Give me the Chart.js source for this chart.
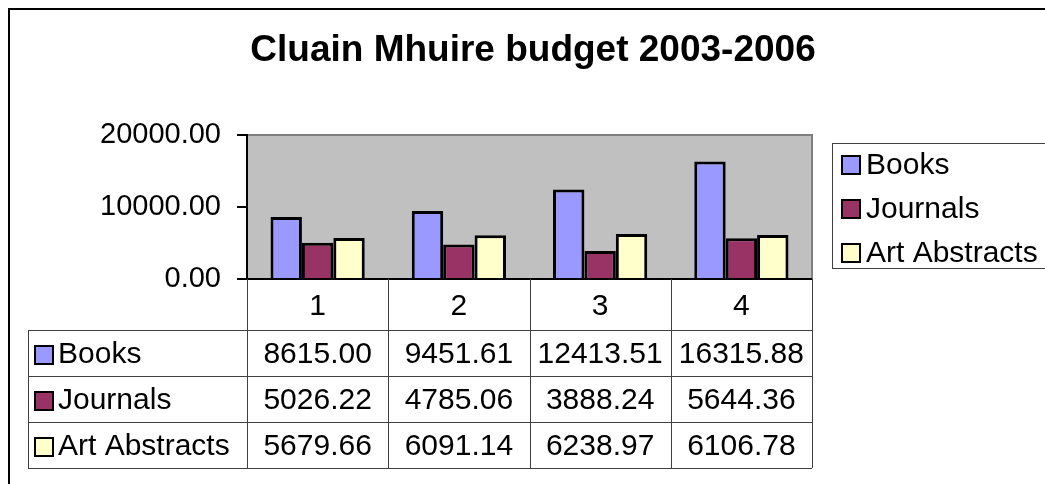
<!DOCTYPE html>
<html>
<head>
<meta charset="utf-8">
<title>Cluain Mhuire budget 2003-2006</title>
<script src="https://cdn.jsdelivr.net/npm/chart.js@4.4.1/dist/chart.umd.min.js"></script>
<style>
    body { margin: 0; background: #fff; }
    #wrap { width: 1045px; height: 484px; }
</style>
</head>
<body>
<div id="wrap"><canvas id="budgetChart" width="1045" height="484"></canvas></div>
<script>
// data
const categories = ['1', '2', '3', '4'];
const seriesNames = ['Books', 'Journals', 'Art Abstracts'];
const books = [8615.00, 9451.61, 12413.51, 16315.88];
const journals = [5026.22, 4785.06, 3888.24, 5644.36];
const artAbstracts = [5679.66, 6091.14, 6238.97, 6106.78];
const seriesColors = ['#9999FF', '#993366', '#FFFFCC'];
const yMin = 0, yMax = 20000, yStep = 10000;

const FONT = "'Liberation Sans', Arial, sans-serif";

// Excel-style frame, plot background, legend box and data table
const excelLook = {
    id: 'excelLook',
    beforeDraw(chart) {
        const ctx = chart.ctx;
        const a = chart.chartArea;
        ctx.save();
        ctx.fillStyle = '#fff';
        ctx.fillRect(0, 0, chart.width, chart.height);
        // outer chart border (only left/top are in view)
        ctx.strokeStyle = '#000';
        ctx.lineWidth = 2;
        ctx.beginPath();
        ctx.moveTo(9, chart.height + 5);
        ctx.lineTo(9, 9);
        ctx.lineTo(chart.width + 5, 9);
        ctx.stroke();
        // title
        ctx.fillStyle = '#000';
        ctx.font = 'bold 37px ' + FONT;
        ctx.textAlign = 'center';
        ctx.textBaseline = 'middle';
        ctx.fillText('Cluain Mhuire budget 2003-2006', 533, 51);
        // plot area
        ctx.fillStyle = '#C0C0C0';
        ctx.fillRect(a.left, a.top, a.right - a.left, a.bottom - a.top);
        ctx.strokeStyle = '#808080';
        ctx.lineWidth = 2;
        ctx.beginPath();
        ctx.moveTo(a.left, a.top);
        ctx.lineTo(a.right, a.top);
        ctx.lineTo(a.right, a.bottom);
        ctx.stroke();
        ctx.restore();
    },
    afterDraw(chart) {
        const ctx = chart.ctx;
        const a = chart.chartArea;
        const x = chart.scales.x;
        const colW = (a.right - a.left) / categories.length;
        const rows = [330, 376, 422, 468];
        const tableLeft = 28;
        ctx.save();
        // zero line
        ctx.strokeStyle = '#000';
        ctx.lineWidth = 2;
        ctx.beginPath();
        ctx.moveTo(a.left - 10, a.bottom);
        ctx.lineTo(a.right, a.bottom);
        ctx.stroke();

        // table grid
        ctx.strokeStyle = '#404040';
        ctx.lineWidth = 1;
        ctx.beginPath();
        for (let i = 0; i <= categories.length; i++) {
            const px = Math.round(a.left + i * colW) + 0.5;
            ctx.moveTo(px, a.bottom);
            ctx.lineTo(px, rows[rows.length - 1]);
        }
        rows.forEach(r => {
            ctx.moveTo(tableLeft, r + 0.5);
            ctx.lineTo(a.right, r + 0.5);
        });
        ctx.moveTo(tableLeft + 0.5, rows[0]);
        ctx.lineTo(tableLeft + 0.5, rows[rows.length - 1]);
        ctx.stroke();

        ctx.fillStyle = '#000';
        ctx.font = '30px ' + FONT;
        ctx.textBaseline = 'middle';
        ctx.textAlign = 'center';
        categories.forEach((c, i) => {
            ctx.fillText(c, x.getPixelForValue(i), (a.bottom + rows[0]) / 2 + 2);
        });
        chart.data.datasets.forEach((ds, s) => {
            const cy = (rows[s] + rows[s + 1]) / 2 + 2;
            // key square
            ctx.fillStyle = ds.backgroundColor;
            ctx.fillRect(35, cy - 9, 18, 18);
            ctx.strokeStyle = '#000';
            ctx.lineWidth = 2;
            ctx.strokeRect(35, cy - 9, 18, 18);
            ctx.fillStyle = '#000';
            ctx.textAlign = 'left';
            ctx.fillText(ds.label, 58, cy);
            ctx.textAlign = 'center';
            ds.data.forEach((v, i) => {
                ctx.fillText(v.toFixed(2), x.getPixelForValue(i), cy);
            });
        });

        // legend
        ctx.strokeStyle = '#404040';
        ctx.lineWidth = 1;
        ctx.strokeRect(832.5, 143.5, 260, 125);
        const legendY = [165, 209, 253];
        chart.data.datasets.forEach((ds, s) => {
            const cy = legendY[s];
            ctx.fillStyle = ds.backgroundColor;
            ctx.fillRect(842, cy - 9, 18, 18);
            ctx.strokeStyle = '#000';
            ctx.lineWidth = 2;
            ctx.strokeRect(842, cy - 9, 18, 18);
            ctx.fillStyle = '#000';
            ctx.textAlign = 'left';
            ctx.fillText(ds.label, 866, cy + 1);
        });
        ctx.restore();
    }
};

const ctx = document.getElementById('budgetChart').getContext('2d');
new Chart(ctx, {
    type: 'bar',
    data: {
        labels: categories,
        datasets: [
            { label: seriesNames[0], data: books, backgroundColor: seriesColors[0] },
            { label: seriesNames[1], data: journals, backgroundColor: seriesColors[1] },
            { label: seriesNames[2], data: artAbstracts, backgroundColor: seriesColors[2] }
        ].map(d => Object.assign(d, {
            borderColor: '#000',
            borderWidth: 3,
            borderSkipped: 'bottom',
            barPercentage: 1.0,
            categoryPercentage: 0.667
        }))
    },
    options: {
        responsive: false,
        animation: false,
        events: [],
        layout: {
            padding: { left: 0, top: 135, right: 1045 - 812, bottom: 484 - 279 }
        },
        plugins: {
            legend: { display: false },
            title: { display: false },
            tooltip: { enabled: false }
        },
        scales: {
            x: { display: false },
            y: {
                min: yMin,
                max: yMax,
                afterFit(scale) { scale.width = 247; },
                border: { display: true, color: '#000', width: 2 },
                grid: {
                    drawOnChartArea: false,
                    drawTicks: true,
                    tickLength: 10,
                    color: '#000',
                    lineWidth: 2
                },
                ticks: {
                    stepSize: yStep,
                    padding: 16,
                    color: '#000',
                    font: { family: FONT, size: 29 },
                    callback: v => Number(v).toFixed(2)
                }
            }
        }
    },
    plugins: [excelLook]
});
</script>
</body>
</html>
